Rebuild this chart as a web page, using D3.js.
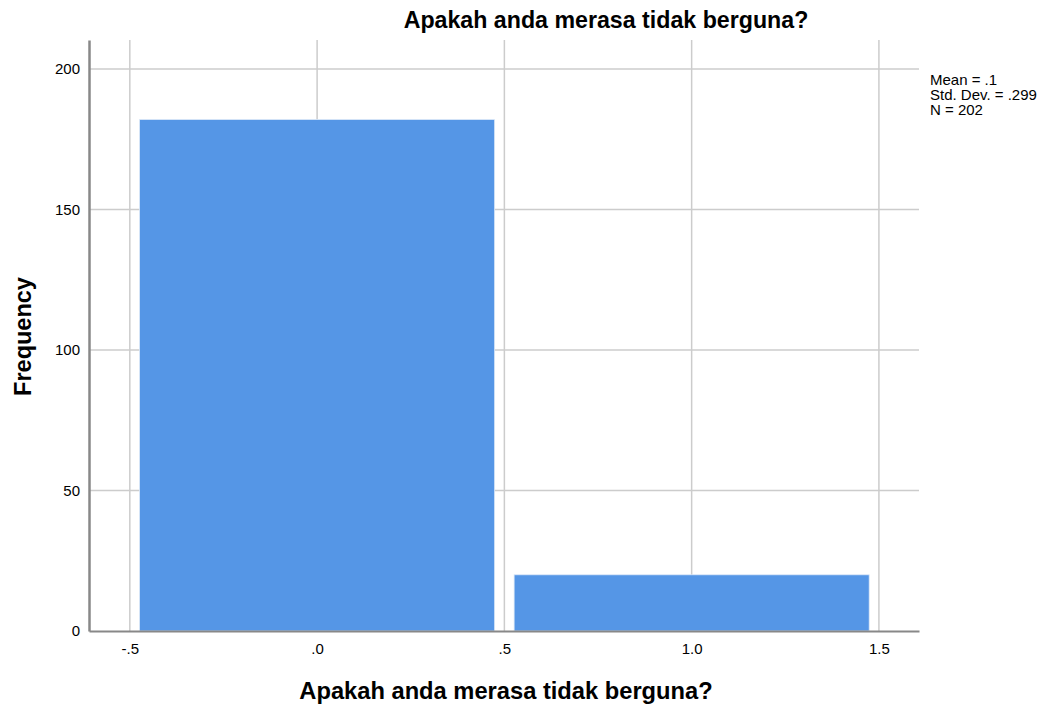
<!DOCTYPE html>
<html>
<head>
<meta charset="utf-8">
<script src="https://cdn.jsdelivr.net/npm/d3@7"></script>
<style>
  body { margin: 0; background: #fff; }
  text { font-family: "Liberation Sans", Arial, sans-serif; fill: #000; }
</style>
</head>
<body>
<svg width="1051" height="709"></svg>
<script>
// histogram bins (value centre) and frequencies
var binCentres = [0, 1];
var counts = [182, 20];
var xTicks = [-0.5, 0, 0.5, 1.0, 1.5];
var xTickLabels = ["-.5", ".0", ".5", "1.0", "1.5"];
var yTicks = [0, 50, 100, 150, 200];
var statsLines = ["Mean = .1", "Std. Dev. = .299", "N = 202"];
var title = "Apakah anda merasa tidak berguna?";

var svg = d3.select("svg"),
    margin = {top: 40, right: 132, bottom: 78, left: 89},
    width = +svg.attr("width") - margin.left - margin.right,
    height = +svg.attr("height") - margin.top - margin.bottom,
    g = svg.append("g").attr("transform", "translate(" + margin.left + "," + margin.top + ")");

var x = d3.scaleLinear()
    .domain([-0.609, 1.607])
    .range([0, width]);

var y = d3.scaleLinear()
    .domain([0, 210.3])
    .range([height, 0]);

// grid lines
g.selectAll(".vgrid")
    .data(xTicks)
  .enter().append("line")
    .attr("x1", function(d) { return x(d); })
    .attr("x2", function(d) { return x(d); })
    .attr("y1", 0)
    .attr("y2", height)
    .attr("stroke", "#cccccc")
    .attr("stroke-width", 1.5);

g.selectAll(".hgrid")
    .data(yTicks.slice(1))
  .enter().append("line")
    .attr("x1", 0)
    .attr("x2", width)
    .attr("y1", function(d) { return y(d); })
    .attr("y2", function(d) { return y(d); })
    .attr("stroke", "#cccccc")
    .attr("stroke-width", 1.5);

// bars
var gap = 0.026;
g.selectAll(".bar")
    .data(binCentres)
  .enter().append("rect")
    .attr("x", function(d) { return x(d - 0.5 + gap); })
    .attr("width", function(d) { return x(d + 0.5 - gap) - x(d - 0.5 + gap); })
    .attr("y", function(d, i) { return y(counts[i]); })
    .attr("height", function(d, i) { return height - y(counts[i]); })
    .attr("fill", "#5596e6")
    .attr("stroke", "#dde9f8")
    .attr("stroke-width", 0.8);

// axes
var xAxis = g.append("g")
    .attr("transform", "translate(0," + height + ")")
    .call(d3.axisBottom(x).tickValues(xTicks).tickSize(0).tickPadding(12)
      .tickFormat(function(d, i) { return xTickLabels[i]; }));
xAxis.select(".domain").attr("stroke", "#888").attr("stroke-width", 2);
xAxis.selectAll("text").style("font-size", "15px");

var yAxis = g.append("g")
    .call(d3.axisLeft(y).tickValues(yTicks).tickSize(0).tickPadding(9));
yAxis.select(".domain").attr("stroke", "#888").attr("stroke-width", 2.5);
yAxis.selectAll("text").style("font-size", "15px");

// titles
svg.append("text")
    .attr("x", 606)
    .attr("y", 28)
    .attr("text-anchor", "middle")
    .style("font-size", "23.2px")
    .attr("font-weight", "bold")
    .text(title);

svg.append("text")
    .attr("x", 506)
    .attr("y", 699)
    .attr("text-anchor", "middle")
    .style("font-size", "23.7px")
    .attr("font-weight", "bold")
    .text(title);

svg.append("text")
    .attr("transform", "translate(31," + (margin.top + height / 2 + 1) + ") rotate(-90)")
    .attr("text-anchor", "middle")
    .style("font-size", "23.5px")
    .attr("font-weight", "bold")
    .text("Frequency");

// stats box
svg.selectAll(".stat")
    .data(statsLines)
  .enter().append("text")
    .attr("x", 930)
    .attr("y", function(d, i) { return 85 + i * 15; })
    .style("font-size", "15px")
    .text(function(d) { return d; });
</script>
</body>
</html>
